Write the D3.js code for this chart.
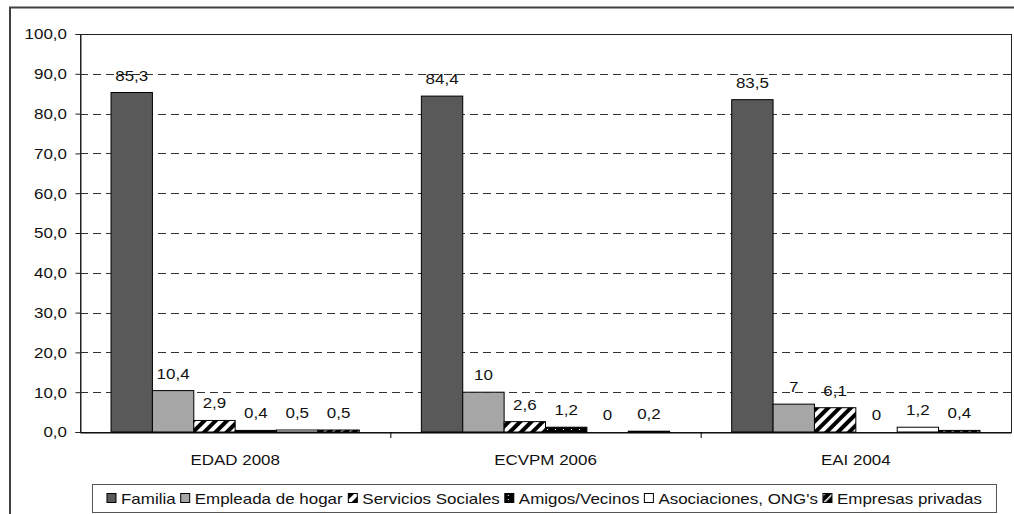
<!DOCTYPE html>
<html><head><meta charset="utf-8">
<script src="https://cdn.jsdelivr.net/npm/d3@7"></script>
<style>
body{margin:0;background:#fff;}
svg{font-family:"Liberation Sans",Arial,sans-serif;}
</style></head>
<body><svg id="c" width="1014" height="514"></svg>
<script>
const categories = ["EDAD 2008","ECVPM 2006","EAI 2004"];
const seriesNames = ["Familia","Empleada de hogar","Servicios Sociales","Amigos/Vecinos","Asociaciones, ONG's","Empresas privadas"];
const familia = [85.3,84.4,83.5];
const empleada = [10.4,10,7];
const servicios = [2.9,2.6,6.1];
const amigos = [0.4,1.2,0];
const asociaciones = [0.5,0,1.2];
const empresas = [0.5,0.2,0.4];
const yTicks = [0,10,20,30,40,50,60,70,80,90,100];

const seriesValues = [familia,empleada,servicios,amigos,asociaciones,empresas];
const fills = ["#595959","#a6a6a6","url(#pStripe)","url(#pDots)","#ffffff","url(#pEmp)"];
const SX = 1.13;

const svg = d3.select("#c");
const defs = svg.append("defs");
const p1 = defs.append("pattern").attr("id","pStripe").attr("patternUnits","userSpaceOnUse")
  .attr("width",8).attr("height",8).attr("patternTransform","rotate(45)");
p1.append("rect").attr("width",8).attr("height",8).attr("fill","#fff");
p1.append("rect").attr("width",4).attr("height",8).attr("fill","#000");
const p2 = defs.append("pattern").attr("id","pDots").attr("patternUnits","userSpaceOnUse")
  .attr("width",8).attr("height",4);
p2.append("rect").attr("width",8).attr("height",4).attr("fill","#000");
p2.append("rect").attr("x",3).attr("y",1).attr("width",1).attr("height",1).attr("fill","#fff");
const p3 = defs.append("pattern").attr("id","pEmp").attr("patternUnits","userSpaceOnUse")
  .attr("width",6).attr("height",6).attr("patternTransform","rotate(45)");
p3.append("rect").attr("width",6).attr("height",6).attr("fill","#000");
p3.append("rect").attr("width",1.5).attr("height",6).attr("fill","#fff");

svg.append("rect").attr("x",10).attr("y",7.5).attr("width",1020).attr("height",520)
  .attr("fill","none").attr("stroke","#404040").attr("stroke-width",2);

const L=80, R=1011, T=34, B=432;
const x0 = d3.scaleBand().domain(categories).range([L,R]).paddingInner(0).paddingOuter(0);
const y = d3.scaleLinear().domain([0,100]).range([B,T]);
const bw = x0.bandwidth()/7.5;

svg.append("g").selectAll("line").data(yTicks.filter(d=>d>0&&d<100)).join("line")
  .attr("x1",L).attr("x2",R).attr("y1",d=>Math.round(y(d))+0.5).attr("y2",d=>Math.round(y(d))+0.5)
  .attr("stroke","#333").attr("stroke-dasharray","8,5");

svg.append("rect").attr("x",L+0.5).attr("y",T+0.5).attr("width",R-L).attr("height",B-T)
  .attr("fill","none").attr("stroke","#222");

const data=[];
categories.forEach((c,ci)=>seriesValues.forEach((s,si)=>data.push({c,si,v:s[ci]})));
svg.append("g").selectAll("rect").data(data).join("rect")
  .attr("x",d=>x0(d.c)+bw*0.75+d.si*bw)
  .attr("y",d=>y(d.v))
  .attr("width",bw).attr("height",d=>B-y(d.v))
  .attr("fill",d=>fills[d.si]).attr("stroke","#000").attr("stroke-width",1);

svg.append("g").selectAll("text").data(data).join("text")
  .attr("transform",d=>`translate(${x0(d.c)+bw*0.75+d.si*bw+bw/2},${y(d.v)-12}) scale(${SX},1)`)
  .attr("text-anchor","middle").attr("font-size",15).attr("fill","#111")
  .text(d=>String(d.v).replace(".",","));

const yAxis = d3.axisLeft(y).tickValues(yTicks).tickSize(5).tickPadding(7)
  .tickFormat(d=>d3.format(".1f")(d).replace(".",","));
const ga = svg.append("g").attr("transform",`translate(${L+0.5},0)`).call(yAxis);
ga.select(".domain").attr("stroke","#222");
ga.selectAll(".tick line").attr("stroke","#222");
ga.selectAll("text").attr("font-size",15).attr("fill","#111").attr("font-family","Liberation Sans, Arial, sans-serif")
  .attr("transform",`scale(${SX},1)`);

const gx = svg.append("g").attr("transform",`translate(0,${B+0.5})`)
  .call(d3.axisBottom(x0).tickSize(0).tickPadding(22));
gx.select(".domain").attr("stroke","#000");
gx.selectAll("text").attr("font-size",15).attr("fill","#111").attr("font-family","Liberation Sans, Arial, sans-serif")
  .attr("transform",`scale(${SX},1)`);
svg.append("g").selectAll("line").data(categories.slice(1)).join("line")
  .attr("x1",d=>x0(d)+0.5).attr("x2",d=>x0(d)+0.5).attr("y1",B).attr("y2",B+6).attr("stroke","#000");

const lg = svg.append("g");
lg.append("rect").attr("x",92.5).attr("y",484.5).attr("width",904).attr("height",28)
  .attr("fill","#fff").attr("stroke","#555");
const items = lg.selectAll("g").data(seriesNames).join("g");
items.append("rect").attr("y",-0.5).attr("width",9).attr("height",9).attr("fill",(d,i)=>fills[i]).attr("stroke","#000");
items.append("text").attr("transform",`translate(14,9.5) scale(${SX},1)`).attr("font-size",15).attr("fill","#111").text(d=>d);
let widths = []; items.each(function(){ widths.push(this.getBBox().width); });
const gap = 5;
const total = d3.sum(widths)+gap*(widths.length-1);
let cx = 92 + (905-total)/2;
items.attr("transform",(d,i)=>{ const t=`translate(${cx},${494})`; cx+=widths[i]+gap; return t; });
</script></body></html>
